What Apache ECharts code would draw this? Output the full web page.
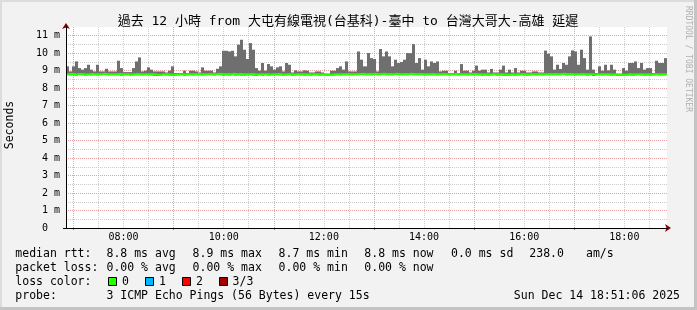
<!DOCTYPE html>
<html><head><meta charset="utf-8">
<script src="https://cdn.jsdelivr.net/npm/echarts@6/dist/echarts.min.js"></script>
<style>html,body{margin:0;padding:0;background:#f2f2f2}#c{width:697px;height:310px}</style>
</head><body><div id="c"></div><script>
// time in minutes of the day: 06:51:06 .. 18:51:06
const T_START = 411.1;
const T_END = 1131.1;
const STEP = 3.6;

// smoke top (max rtt, ms) per step
const maxRtt = [
9.25,8.96,9.25,9.53,9.15,9.06,9.15,9.34,9.06,8.96,
9.34,8.96,8.96,9.11,8.96,8.96,8.96,9.57,9.15,8.92,
8.92,8.92,9.15,9.53,9.76,8.96,9.0,9.19,9.06,8.96,
8.96,8.96,8.96,8.9,9.0,9.25,8.87,8.87,8.87,9.0,
8.87,9.0,9.0,8.96,8.9,9.19,9.0,9.0,9.0,8.9,
9.11,9.25,10.14,10.14,10.1,10.14,9.82,10.49,10.77,10.2,
9.67,10.58,10.2,9.15,9.0,9.44,9.0,9.38,9.25,9.06,
9.19,9.25,8.96,9.44,9.34,8.9,9.02,8.96,8.96,9.02,
9.0,8.9,8.9,8.96,8.96,8.9,8.83,8.83,9.0,9.0,
9.15,9.25,9.06,9.53,8.96,8.96,8.96,10.1,9.63,9.25,
10.01,9.72,9.67,8.96,10.24,9.82,10.1,9.82,9.25,9.63,
9.44,9.5,9.63,10.01,10.0,10.52,9.44,9.72,9.06,9.63,
9.25,9.53,9.44,9.53,8.96,9.0,9.0,8.87,8.87,9.0,
8.87,9.38,9.0,9.0,8.9,9.0,9.29,9.0,9.06,9.06,
8.9,9.1,8.9,8.9,9.06,9.29,8.9,9.06,8.9,9.15,
8.9,9.0,9.0,8.9,8.9,8.96,8.96,8.9,8.9,10.15,
9.97,9.82,9.06,9.34,9.1,9.44,9.34,9.82,10.16,10.1,
9.34,10.2,9.72,9.06,10.96,9.06,8.87,9.25,9.0,9.34,
9.02,9.34,9.06,8.83,8.83,9.15,9.0,9.44,9.44,9.53,
9.15,9.44,9.06,9.15,9.15,8.87,9.57,9.44,9.44,9.72
];
// median rtt (ms) per step
const medRtt = [
8.80,8.82,8.80,8.79,8.81,8.80,8.78,8.80,8.81,8.80,8.79,8.80,8.82,8.80,8.79,8.80,8.80,8.81,8.79,8.80,
8.80,8.78,8.80,8.81,8.80,8.79,8.80,8.80,8.79,8.78,8.77,8.78,8.80,8.79,8.78,8.77,8.78,8.79,8.80,8.78,
8.79,8.80,8.79,8.81,8.80,8.79,8.80,8.81,8.80,8.80,8.82,8.81,8.80,8.81,8.80,8.82,8.80,8.81,8.80,8.79,
8.80,8.81,8.79,8.78,8.80,8.79,8.80,8.78,8.79,8.80,8.81,8.79,8.78,8.79,8.80,8.78,8.79,8.80,8.79,8.78,
8.79,8.78,8.80,8.79,8.78,8.79,8.78,8.77,8.78,8.79,8.80,8.79,8.80,8.81,8.80,8.79,8.80,8.81,8.82,8.80,
8.81,8.80,8.82,8.80,8.81,8.82,8.80,8.81,8.80,8.82,8.81,8.80,8.81,8.80,8.82,8.81,8.80,8.81,8.80,8.79,
8.80,8.81,8.80,8.79,8.80,8.81,8.80,8.79,8.80,8.81,8.79,8.80,8.80,8.79,8.80,8.81,8.80,8.79,8.78,8.79,
8.78,8.79,8.80,8.78,8.79,8.78,8.77,8.78,8.79,8.78,8.79,8.80,8.79,8.78,8.79,8.80,8.79,8.80,8.79,8.80,
8.81,8.80,8.81,8.80,8.81,8.82,8.80,8.81,8.80,8.79,8.80,8.81,8.80,8.79,8.80,8.78,8.79,8.80,8.79,8.80,
8.79,8.78,8.79,8.77,8.78,8.77,8.78,8.79,8.78,8.79,8.80,8.79,8.78,8.79,8.78,8.79,8.80,8.79,8.80,8.80
];
// smoke bottom (min rtt, ms) per step
const minRtt = [
8.74,8.73,8.74,8.72,8.75,8.74,8.72,8.74,8.73,8.74,8.73,8.74,8.75,8.74,8.73,8.74,8.74,8.74,8.72,8.74,
8.74,8.72,8.73,8.74,8.74,8.73,8.74,8.74,8.73,8.71,8.70,8.72,8.74,8.73,8.72,8.71,8.72,8.73,8.74,8.72,
8.73,8.74,8.73,8.74,8.74,8.73,8.74,8.75,8.74,8.73,8.75,8.74,8.72,8.73,8.72,8.74,8.72,8.73,8.72,8.72,
8.73,8.74,8.72,8.71,8.74,8.72,8.74,8.72,8.73,8.74,8.74,8.73,8.72,8.73,8.74,8.72,8.73,8.74,8.73,8.72,
8.73,8.72,8.74,8.73,8.72,8.73,8.72,8.71,8.72,8.73,8.74,8.73,8.74,8.74,8.74,8.73,8.74,8.74,8.75,8.74,
8.74,8.74,8.75,8.74,8.74,8.75,8.74,8.74,8.74,8.75,8.74,8.74,8.74,8.74,8.75,8.74,8.74,8.74,8.74,8.73,
8.74,8.74,8.74,8.73,8.74,8.74,8.74,8.73,8.74,8.74,8.73,8.74,8.74,8.73,8.74,8.74,8.74,8.73,8.72,8.73,
8.72,8.73,8.74,8.72,8.73,8.72,8.71,8.72,8.73,8.72,8.73,8.74,8.73,8.72,8.73,8.74,8.73,8.74,8.73,8.74,
8.74,8.74,8.74,8.74,8.74,8.75,8.73,8.74,8.74,8.73,8.74,8.74,8.74,8.72,8.74,8.70,8.73,8.74,8.73,8.74,
8.73,8.72,8.73,8.71,8.72,8.71,8.72,8.73,8.72,8.73,8.74,8.73,8.72,8.73,8.72,8.73,8.74,8.73,8.74,8.74
];

const yMajor = [0,1,2,3,4,5,6,7,8,9,10,11];
const yMinor = [0.5,1.5,2.5,3.5,4.5,5.5,6.5,7.5,8.5,9.5,10.5];
const xMinor = [420,450,480,510,540,570,600,630,660,690,720,750,780,810,840,870,900,930,960,990,1020,1050,1080,1110];
const xMajor = [420,540,660,780,900,1020];
const xLabels = [480,600,720,840,960,1080];

const TITLE = '過去 12 小時 from 大屯有線電視(台基科)-臺中 to 台灣大哥大-高雄 延遲';

const MONO = '"DejaVu Sans Mono", "Noto Sans CJK TC", monospace';
const pad = n => (n < 10 ? '0' : '') + n;
const fmtTime = v => pad(Math.floor(v / 60)) + ':' + pad(Math.round(v % 60));

const times = maxRtt.map((_, i) => T_START + i * STEP);
const last = maxRtt.length - 1;
// smoke cells: [t0, t1, min, max]
const smokeData = times.map((t, i) => [t, i < last ? times[i + 1] : T_END, minRtt[i], maxRtt[i]]);
const medData = times.map((t, i) => [t, medRtt[i]]).concat([[T_END, medRtt[last]]]);

const GREY = '#cccccc';
const RED = '#e8a0a0';

function xAx(extra) {
  return Object.assign({type: 'value', min: T_START, max: T_END, position: 'bottom', gridIndex: 0}, extra);
}
function yAx(extra) {
  return Object.assign({type: 'value', min: 0, max: 11.5, position: 'left', gridIndex: 0}, extra);
}

function txt(x, y, s, opt) {
  return {type: 'text', x: x, y: y, silent: true, z: 10, rotation: (opt && opt.rot) || 0,
    style: Object.assign({text: s, font: '11.5px ' + MONO, fill: '#000', textAlign: 'left', textVerticalAlign: 'middle'}, opt && opt.style)};
}

const legend = [
  txt(15.3, 254.5, 'median rtt:'), txt(106.5, 254.5, '8.8 ms avg'), txt(192.6, 254.5, '8.9 ms max'),
  txt(278.6, 254.5, '8.7 ms min'), txt(364.3, 254.5, '8.8 ms now'), txt(451, 254.5, '0.0 ms sd'),
  txt(529.3, 254.5, '238.0'), txt(586, 254.5, 'am/s'),
  txt(15.3, 268.4, 'packet loss:'), txt(106.5, 268.4, '0.00 % avg'), txt(192.6, 268.4, '0.00 % max'),
  txt(278.6, 268.4, '0.00 % min'), txt(364.3, 268.4, '0.00 % now'),
  txt(15.3, 282.3, 'loss color:'), txt(122, 282.3, '0'), txt(159, 282.3, '1'), txt(196, 282.3, '2'), txt(232.6, 282.3, '3/3'),
  txt(15.3, 296.2, 'probe:'), txt(106.5, 296.2, '3 ICMP Echo Pings (56 Bytes) every 15s'),
  txt(680, 296.2, 'Sun Dec 14 18:51:06 2025', {style: {textAlign: 'right'}}),
  txt(348, 21.5, TITLE, {style: {font: '13px ' + MONO, textAlign: 'center'}}),
  txt(10, 125, 'Seconds', {rot: Math.PI / 2, style: {textAlign: 'center'}}),
  txt(688, 59, 'RRDTOOL / TOBI OETIKER', {rot: -Math.PI / 2, style: {font: '8px ' + MONO, fill: '#b0b0b0', textAlign: 'center'}})
];
const boxColors = ['#26ff00', '#00b8ff', '#ff0000', '#a00000'];
const boxX = [108.5, 145.5, 182.5, 219.5];
const boxes = boxColors.map((c, i) => ({type: 'rect', silent: true, z: 10,
  shape: {x: boxX[i], y: 277.5, width: 8, height: 8}, style: {fill: c, stroke: '#000', lineWidth: 1}}));
const frame = [
  {type: 'rect', silent: true, z: 9, shape: {x: 0, y: 0, width: 697, height: 2}, style: {fill: '#dcdcdc'}},
  {type: 'rect', silent: true, z: 9, shape: {x: 0, y: 0, width: 2, height: 310}, style: {fill: '#dcdcdc'}},
  {type: 'rect', silent: true, z: 9, shape: {x: 0, y: 307, width: 697, height: 3}, style: {fill: '#c4c4c4'}},
  {type: 'rect', silent: true, z: 9, shape: {x: 694, y: 0, width: 3, height: 310}, style: {fill: '#c4c4c4'}}
];

function renderSmoke(params, api) {
  const p1 = api.coord([api.value(0), api.value(3)]);
  const p2 = api.coord([api.value(1), api.value(2)]);
  const x0 = Math.round(p1[0]);
  const x1 = Math.round(p2[0]);
  return {type: 'rect', shape: {x: x0, y: p1[1], width: x1 - x0, height: p2[1] - p1[1]},
    style: {fill: '#6f6f6f'}};
}

const chart = echarts.init(document.getElementById('c'), null, {renderer: 'canvas'});
chart.setOption({
  animation: false,
  backgroundColor: '#f2f2f2',
  grid: {left: 66, top: 27, width: 601, height: 201, show: true, backgroundColor: '#ffffff', borderWidth: 0, containLabel: false},
  xAxis: [
    xAx({z: 0, axisLine: {show: false}, axisTick: {show: false, customValues: xMinor}, axisLabel: {show: false},
      splitLine: {show: true, lineStyle: {color: GREY, type: [1, 1], width: 1}}}),
    xAx({z: 1, axisLine: {show: true, lineStyle: {color: '#800000', width: 1}, symbol: ['none', 'arrow'], symbolSize: [6, 6], symbolOffset: [0, 4]},
      axisTick: {show: true, customValues: xMajor, length: 2, lineStyle: {color: '#d06060'}}, axisLabel: {show: false},
      splitLine: {show: true, lineStyle: {color: RED, type: [1, 1], width: 1}}}),
    xAx({z: 4, axisLine: {show: true, lineStyle: {color: '#000', width: 1}}, axisTick: {show: false, customValues: xLabels},
      axisLabel: {show: true, customValues: xLabels, formatter: fmtTime, margin: 4, fontFamily: MONO, fontSize: 10, color: '#000'},
      splitLine: {show: false}})
  ],
  yAxis: [
    yAx({z: 0, axisLine: {show: false}, axisTick: {show: false, customValues: yMinor}, axisLabel: {show: false},
      splitLine: {show: true, lineStyle: {color: GREY, type: [1, 1], width: 1}}}),
    yAx({z: 1, axisLine: {show: true, lineStyle: {color: '#800000', width: 1}, symbol: ['none', 'arrow'], symbolSize: [6, 6], symbolOffset: [0, 4]},
      axisTick: {show: false, customValues: yMajor},
      axisLabel: {show: true, customValues: yMajor, formatter: v => v === 0 ? '0\u00a0\u00a0' : v + '\u00a0m', margin: 6, fontFamily: MONO, fontSize: 10, color: '#000'},
      splitLine: {show: true, lineStyle: {color: RED, type: [1, 1], width: 1}}}),
    yAx({z: 4, axisLine: {show: true, lineStyle: {color: '#000', width: 1}}, axisTick: {show: true, customValues: [0], length: 3, lineStyle: {color: '#000'}},
      axisLabel: {show: false}, splitLine: {show: false}})
  ],
  series: [
    {type: 'custom', name: 'smoke', data: smokeData, renderItem: renderSmoke, silent: true, z: 3,
      encode: {x: [0, 1], y: [2, 3]}},
    {type: 'line', name: 'median', step: 'end', data: medData, symbol: 'none', silent: true, z: 3,
      lineStyle: {color: '#26ff00', width: 2}}
  ],
  graphic: frame.concat(boxes, legend)
});
</script></body></html>
